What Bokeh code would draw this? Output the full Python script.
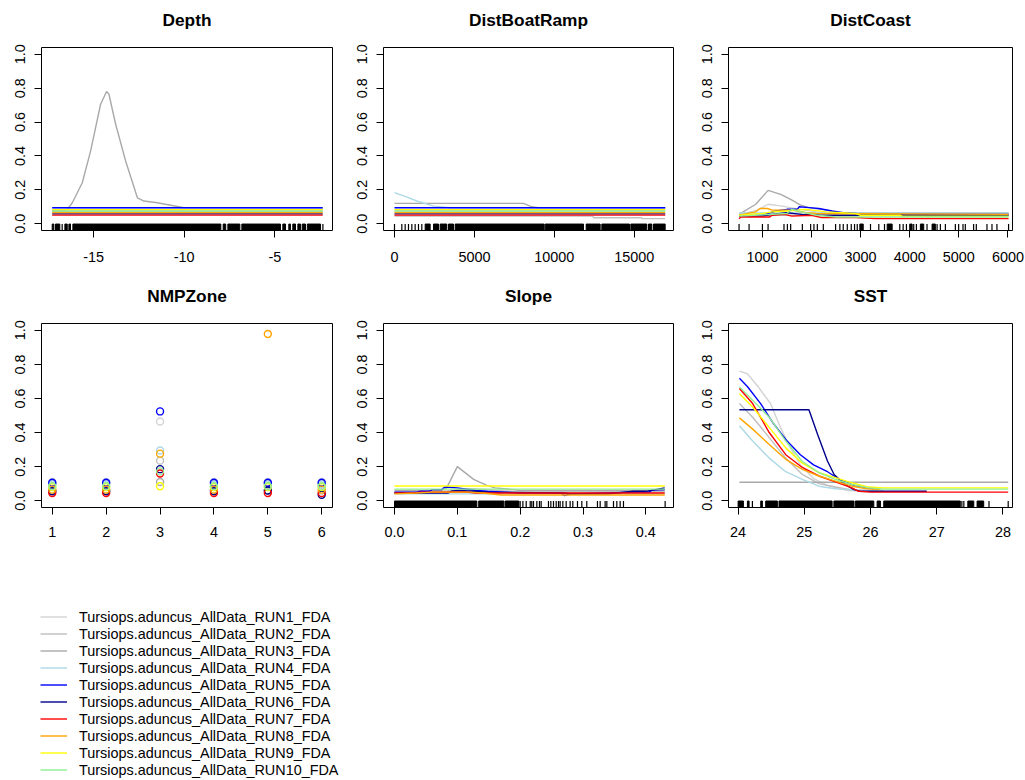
from bokeh.plotting import figure
from bokeh.models import Range1d, FixedTicker, NumeralTickFormatter, Legend, LegendItem, Title
from bokeh.layouts import column, row
from bokeh.embed import file_html
from bokeh.resources import INLINE

# ---------------- data ----------------
run_labels = [
    "Tursiops.aduncus_AllData_RUN1_FDA", "Tursiops.aduncus_AllData_RUN2_FDA",
    "Tursiops.aduncus_AllData_RUN3_FDA", "Tursiops.aduncus_AllData_RUN4_FDA",
    "Tursiops.aduncus_AllData_RUN5_FDA", "Tursiops.aduncus_AllData_RUN6_FDA",
    "Tursiops.aduncus_AllData_RUN7_FDA", "Tursiops.aduncus_AllData_RUN8_FDA",
    "Tursiops.aduncus_AllData_RUN9_FDA", "Tursiops.aduncus_AllData_RUN10_FDA",
]
run_colors = ["#D3D3D3", "#BEBEBE", "#A9A9A9", "#ADD8E6", "#0000FF",
              "#00008B", "#FF0000", "#FFA500", "#FFFF00", "#90EE90"]

panel_titles = ["Depth", "DistBoatRamp", "DistCoast", "NMPZone", "Slope", "SST"]
y_ticks = [0.0, 0.2, 0.4, 0.6, 0.8, 1.0]

# Depth
depth_ticks = [-15, -10, -5]
depth_xs = [
    [-17.28, -2.36],
    [-17.28, -2.36],
    [-17.28, -16.65, -16.45, -16.17, -15.62, -15.16, -14.61, -14.28, -14.15, -13.78,
     -13.23, -12.58, -12.22, -11.48, -10.0, -9.8, -2.36],
    [-17.28, -2.36],
    [-17.28, -2.36],
    [-17.28, -2.36],
    [-17.28, -2.36],
    [-17.28, -2.36],
    [-17.28, -2.36],
    [-17.28, -2.36],
]
depth_ys = [
    [0.077, 0.077],
    [0.070, 0.070],
    [0.075, 0.078, 0.085, 0.124, 0.242, 0.43, 0.705, 0.78, 0.764, 0.587,
     0.37, 0.153, 0.134, 0.124, 0.094, 0.094, 0.094],
    [0.094, 0.094],
    [0.094, 0.094],
    [0.058, 0.058],
    [0.051, 0.051],
    [0.066, 0.066],
    [0.083, 0.083],
    [0.075, 0.075],
]
depth_rug = [-16.73, -2.35]
depth_rug_blocks = [(-17.28, -17.19), (-17.10, -16.86), (-16.58, -16.45), (-16.36, -16.27),
                    (-16.14, -7.98), (-7.85, -7.71), (-7.59, -6.93), (-6.82, -4.69),
                    (-4.56, -4.41), (-4.23, -4.14), (-4.01, -3.86), (-3.73, -3.58),
                    (-3.49, -3.31), (-3.21, -2.48)]

# DistBoatRamp
boat_ticks = [0, 5000, 10000, 15000]
boat_xs = [
    [0, 16940],
    [0, 12400, 12460, 15450, 15500, 16940],
    [0, 8080, 8590, 9000, 16940],
    [0, 700, 1400, 2440, 3500, 16940],
    [0, 16940],
    [0, 16940],
    [0, 16940],
    [0, 16940],
    [0, 16940],
    [0, 16940],
]
boat_ys = [
    [0.077, 0.077],
    [0.045, 0.045, 0.035, 0.035, 0.030, 0.030],
    [0.12, 0.12, 0.10, 0.094, 0.094],
    [0.183, 0.16, 0.134, 0.104, 0.094, 0.094],
    [0.094, 0.094],
    [0.058, 0.058],
    [0.051, 0.051],
    [0.066, 0.066],
    [0.083, 0.083],
    [0.075, 0.075],
]
boat_rug = [0, 459, 668, 876, 1085, 1293, 1502, 1710]
boat_rug_blocks = [(1919, 2232), (2440, 2753), (2857, 3274), (3378, 3691), (3796, 9365),
                   (9428, 11827), (11994, 12870), (12974, 14706), (14789, 15790),
                   (15894, 16103), (16207, 16937)]

# DistCoast
coast_ticks = [1000, 2000, 3000, 4000, 5000, 6000]
coast_xs = [
    [524, 900, 1115, 1400, 1780, 2100, 2500, 3800, 4200, 6013],
    [524, 6013],
    [524, 864, 1115, 1372, 1575, 1778, 1950, 2300, 2600, 6013],
    [524, 6013],
    [524, 1000, 1270, 1500, 1710, 1750, 1950, 2150, 2420, 2650, 2900, 3050, 6013],
    [524, 1000, 1200, 1500, 1800, 2200, 6013],
    [524, 560, 1150, 1200, 1450, 1600, 2000, 2200, 2900, 3300, 6013],
    [524, 860, 950, 1100, 1200, 1600, 1900, 2100, 6013],
    [524, 1000, 1200, 1500, 1700, 1900, 2300, 2900, 3000, 3800, 3850, 6013],
    [524, 1500, 1600, 1800, 2100, 2500, 6013],
]
coast_ys = [
    [0.055, 0.08, 0.115, 0.104, 0.085, 0.07, 0.06, 0.05, 0.045, 0.045],
    [0.05, 0.05],
    [0.055, 0.115, 0.197, 0.173, 0.144, 0.11, 0.095, 0.08, 0.063, 0.063],
    [0.063, 0.063],
    [0.045, 0.05, 0.075, 0.085, 0.085, 0.10, 0.095, 0.09, 0.075, 0.065, 0.06, 0.055, 0.055],
    [0.045, 0.045, 0.055, 0.065, 0.055, 0.05, 0.05],
    [0.03, 0.04, 0.04, 0.05, 0.055, 0.045, 0.05, 0.037, 0.037, 0.03, 0.03],
    [0.05, 0.07, 0.09, 0.09, 0.08, 0.08, 0.065, 0.06, 0.055],
    [0.05, 0.06, 0.07, 0.075, 0.08, 0.085, 0.07, 0.06, 0.05, 0.05, 0.045, 0.045],
    [0.045, 0.06, 0.085, 0.07, 0.05, 0.04, 0.04],
]
coast_rug = [524, 728, 1000, 1115, 1439, 1508, 1575, 1813, 1982, 2049, 2118, 2240, 2490,
             2577, 2646, 2728, 2809, 2876, 2931, 3201, 3370, 3486, 3797, 3866, 3933, 4081,
             4136, 4352, 4557, 4624, 4726, 4929, 4996, 5085, 5132, 5301, 5356, 5573, 5675,
             5776, 6013]
coast_rug_blocks = [(2984, 3053), (3541, 3642), (4000, 4049), (4217, 4285), (4455, 4522)]

# NMPZone
zone_levels = [1, 2, 3, 4, 5, 6]
zone_ys = [
    [0.110, 0.110, 0.465, 0.110, 0.110, 0.110],
    [0.060, 0.060, 0.235, 0.060, 0.060, 0.060],
    [0.100, 0.100, 0.110, 0.100, 0.100, 0.100],
    [0.095, 0.095, 0.295, 0.095, 0.095, 0.095],
    [0.105, 0.105, 0.524, 0.105, 0.105, 0.105],
    [0.055, 0.055, 0.185, 0.055, 0.060, 0.035],
    [0.045, 0.045, 0.160, 0.045, 0.045, 0.045],
    [0.065, 0.065, 0.276, 0.065, 0.978, 0.065],
    [0.080, 0.080, 0.085, 0.080, 0.080, 0.080],
    [0.085, 0.085, 0.172, 0.085, 0.085, 0.085],
]

# Slope
slope_ticks = [0.0, 0.1, 0.2, 0.3, 0.4]
slope_xs = [
    [0, 0.43],
    [0, 0.07, 0.09, 0.12, 0.15, 0.2, 0.43],
    [0, 0.075, 0.083, 0.1, 0.126, 0.147, 0.16, 0.19, 0.2, 0.43],
    [0, 0.43],
    [0, 0.035, 0.04, 0.055, 0.06, 0.075, 0.08, 0.1, 0.13, 0.148, 0.175, 0.2, 0.265,
     0.27, 0.28, 0.38, 0.405, 0.41, 0.43],
    [0, 0.085, 0.09, 0.1, 0.13, 0.15, 0.27, 0.28, 0.34, 0.38, 0.4, 0.43],
    [0, 0.035, 0.04, 0.06, 0.11, 0.13, 0.17, 0.43],
    [0, 0.035, 0.06, 0.12, 0.14, 0.17, 0.43],
    [0, 0.43],
    [0, 0.43],
]
slope_ys = [
    [0.055, 0.055],
    [0.045, 0.05, 0.06, 0.07, 0.065, 0.05, 0.05],
    [0.06, 0.06, 0.075, 0.2, 0.125, 0.09, 0.075, 0.065, 0.06, 0.06],
    [0.04, 0.04],
    [0.05, 0.05, 0.055, 0.055, 0.065, 0.065, 0.08, 0.075, 0.06, 0.055, 0.05, 0.045,
     0.045, 0.03, 0.04, 0.05, 0.05, 0.062, 0.065],
    [0.045, 0.045, 0.055, 0.06, 0.055, 0.05, 0.045, 0.04, 0.04, 0.055, 0.055, 0.075],
    [0.045, 0.045, 0.05, 0.05, 0.052, 0.045, 0.045, 0.045],
    [0.04, 0.045, 0.05, 0.05, 0.045, 0.033, 0.033],
    [0.086, 0.086],
    [0.068, 0.068],
]
slope_rug = [0.2, 0.2043, 0.2096, 0.216, 0.2185, 0.2212, 0.2265, 0.2307, 0.2334, 0.245,
             0.2488, 0.253, 0.2573, 0.261, 0.2636, 0.2679, 0.2732, 0.2795, 0.2838, 0.2912,
             0.2981, 0.306, 0.323, 0.3273, 0.3352, 0.3379, 0.3485, 0.3538, 0.3591, 0.3644,
             0.4307]
slope_rug_blocks = [(0.0, 0.131), (0.134, 0.174), (0.176, 0.198)]

# SST
sst_ticks = [24, 25, 26, 27, 28]
sst_xs = [
    [24.02, 24.14, 24.3, 24.49, 24.64, 24.79, 24.94, 25.14, 25.35, 25.65, 26.0, 26.2],
    [24.02, 24.22, 24.47, 24.72, 24.97, 25.22, 25.47, 25.7, 26.0],
    [24.02, 28.08],
    [24.02, 24.22, 24.47, 24.72, 24.97, 25.22, 25.47, 25.8, 26.2],
    [24.02, 24.14, 24.34, 24.54, 24.74, 24.94, 25.14, 25.35, 25.55, 25.75, 25.95, 26.05],
    [24.02, 25.07, 25.2, 25.35, 25.45, 25.6, 25.75, 25.85, 26.85],
    [24.02, 24.22, 24.47, 24.72, 24.97, 25.22, 25.47, 25.72, 25.82, 26.0, 28.08],
    [24.02, 24.22, 24.47, 24.72, 24.97, 25.22, 25.47, 25.72, 25.95, 26.15],
    [24.02, 24.22, 24.47, 24.72, 24.97, 25.22, 25.47, 25.72, 25.97, 26.2, 28.08],
    [24.02, 24.22, 24.47, 24.72, 24.97, 25.22, 25.47, 25.72, 25.97, 26.2, 28.08],
]
sst_ys = [
    [0.76, 0.745, 0.67, 0.57, 0.43, 0.31, 0.21, 0.13, 0.09, 0.06, 0.055, 0.055],
    [0.57, 0.49, 0.37, 0.25, 0.154, 0.10, 0.08, 0.065, 0.06],
    [0.108, 0.108],
    [0.44, 0.35, 0.25, 0.17, 0.125, 0.085, 0.07, 0.062, 0.06],
    [0.718, 0.67, 0.57, 0.45, 0.35, 0.27, 0.21, 0.17, 0.12, 0.09, 0.075, 0.07],
    [0.534, 0.534, 0.39, 0.233, 0.154, 0.10, 0.065, 0.055, 0.055],
    [0.658, 0.57, 0.40, 0.27, 0.195, 0.145, 0.11, 0.075, 0.055, 0.05, 0.05],
    [0.486, 0.42, 0.33, 0.243, 0.184, 0.145, 0.115, 0.085, 0.07, 0.065],
    [0.628, 0.55, 0.43, 0.31, 0.22, 0.165, 0.135, 0.105, 0.08, 0.075, 0.075],
    [0.668, 0.59, 0.49, 0.35, 0.23, 0.165, 0.125, 0.095, 0.075, 0.068, 0.068],
]
sst_rug = [24.216, 27.38, 27.41, 27.79, 28.08]
sst_rug_blocks = [(24.0, 24.08), (24.141, 24.166), (24.342, 24.367), (24.417, 24.593),
                  (24.618, 25.42), (25.447, 25.75), (25.77, 26.05), (26.1, 26.15),
                  (26.2, 27.356), (27.47, 27.56), (27.61, 27.71)]

# ---------------- drawing ----------------
FONT = "Liberation Sans"
RUG_LO, RUG_HI = -0.04, -0.002


def make_panel(title, x_range, xticks, width, b_left, b_right, b_bottom, x_fmt, x_standoff):
    p = figure(width=width, height=276, x_range=Range1d(*x_range),
               y_range=Range1d(-0.04, 1.04), output_backend="svg",
               toolbar_location=None,
               min_border_left=b_left, min_border_right=b_right,
               min_border_top=47, min_border_bottom=b_bottom)
    # spacer between frame and title (pushes the title up, as in the R layout)
    p.add_layout(Title(text=" ", text_font_size="1px", standoff=15), "above")
    p.add_layout(Title(text=title, align="center", text_font=FONT,
                       text_font_size="17.3px", text_font_style="bold",
                       text_color="black", standoff=0), "above")
    p.grid.visible = False
    p.outline_line_color = "black"
    p.outline_line_alpha = 1.0
    p.outline_line_width = 1
    p.background_fill_color = "white"
    p.border_fill_color = "white"
    for ax in (p.xaxis[0], p.yaxis[0]):
        ax.axis_line_color = None
        ax.major_tick_in = 0
        ax.major_tick_out = 7
        ax.major_tick_line_color = "black"
        ax.minor_tick_line_color = None
        ax.major_label_text_font = FONT
        ax.major_label_text_font_size = "14.4px"
        ax.major_label_text_color = "black"
    p.xaxis.ticker = FixedTicker(ticks=xticks)
    p.xaxis.formatter = NumeralTickFormatter(format=x_fmt)
    p.xaxis.major_label_standoff = x_standoff
    p.yaxis.ticker = FixedTicker(ticks=y_ticks)
    p.yaxis.formatter = NumeralTickFormatter(format="0.0")
    p.yaxis.major_label_orientation = "vertical"
    p.yaxis.major_label_standoff = 9
    return p


def add_lines(p, xs, ys):
    for x, y, c in zip(xs, ys, run_colors):
        p.line(x=x, y=y, line_color=c, line_width=1.4)


def add_rug(p, ticks, blocks):
    p.segment(x0=ticks, y0=[RUG_LO] * len(ticks), x1=ticks, y1=[RUG_HI] * len(ticks),
              line_color="black", line_width=1.2)
    p.quad(left=[b[0] for b in blocks], right=[b[1] for b in blocks],
           bottom=[RUG_LO] * len(blocks), top=[RUG_HI] * len(blocks),
           fill_color="black", line_color="black", line_width=1)


# Row 1
p1 = make_panel(panel_titles[0], (-17.87, -1.82), depth_ticks, 341, 41, 9, 46, "0", 14)
add_lines(p1, depth_xs, depth_ys)
add_rug(p1, depth_rug, depth_rug_blocks)

p2 = make_panel(panel_titles[1], (-688, 17459), boat_ticks, 342, 42, 10, 46, "0", 14)
add_lines(p2, boat_xs, boat_ys)
add_rug(p2, boat_rug, boat_rug_blocks)

p3 = make_panel(panel_titles[2], (309, 6093), coast_ticks, 342, 45, 13, 46, "0", 14)
add_lines(p3, coast_xs, coast_ys)
add_rug(p3, coast_rug, coast_rug_blocks)

# Row 2
p4 = make_panel(panel_titles[3], (0.8, 6.2), zone_levels, 341, 41, 9, 45, "0", 12)
for y, c in zip(zone_ys, run_colors):
    p4.scatter(x=zone_levels, y=y, marker="circle", size=7, fill_color=None,
               line_color=c, line_width=1.4)

p5 = make_panel(panel_titles[4], (-0.0175, 0.444), slope_ticks, 342, 42, 10, 45, "0.0", 12)
add_lines(p5, slope_xs, slope_ys)
add_rug(p5, slope_rug, slope_rug_blocks)

p6 = make_panel(panel_titles[5], (23.855, 28.145), sst_ticks, 342, 45, 13, 45, "0", 12)
add_lines(p6, sst_xs, sst_ys)
add_rug(p6, sst_rug, sst_rug_blocks)

# Legend panel (its swatch renderers sit outside the visible range; only the legend shows)
leg = figure(width=350, height=228, x_range=Range1d(0, 1), y_range=Range1d(0, 1),
             output_backend="svg", toolbar_location=None, x_axis_type=None,
             y_axis_type=None, min_border=0)
leg.outline_line_color = None
leg.background_fill_color = "white"
leg.border_fill_color = "white"
items = []
for name, c in zip(run_labels, run_colors):
    r = leg.line(x=[5, 6], y=[5, 6], line_color=c, line_width=1.4)
    items.append(LegendItem(label=name, renderers=[r]))
legend = Legend(items=items, location=(40, 2), orientation="vertical",
                glyph_width=27, glyph_height=17, label_height=17, label_standoff=12,
                spacing=0, padding=0, margin=0, border_line_color=None,
                background_fill_alpha=0, label_text_font=FONT,
                label_text_font_size="14.4px", label_text_color="black")
leg.add_layout(legend)

page = column(row(p1, p2, p3), row(p4, p5, p6), leg)

open("out.html", "w").write(file_html(page, INLINE))
